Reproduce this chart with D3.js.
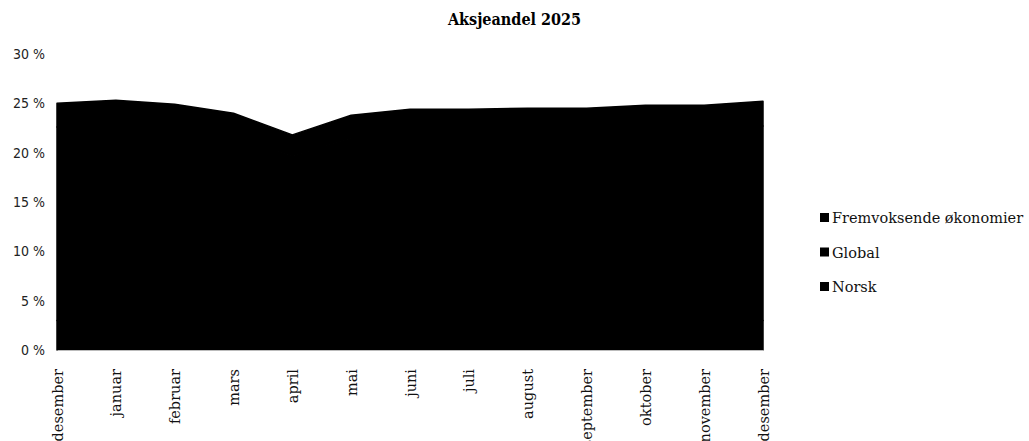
<!DOCTYPE html>
<html>
<head>
<meta charset="utf-8">
<script src="https://cdn.jsdelivr.net/npm/d3@7"></script>
<style>
body { margin: 0; background: #fff; }
</style>
</head>
<body>
<div id="chart"></div>
<script>
// months on the x axis (des 2024 .. des 2025)
var months = ["desember", "januar", "februar", "mars", "april", "mai", "juni",
	"juli", "august", "september", "oktober", "november", "desember"];

// share of equities per segment, in percent (all drawn black in the original)
var norsk = [3.0, 3.1, 3.0, 2.9, 2.7, 2.8, 2.9, 2.9, 2.9, 2.9, 2.9, 2.9, 3.0];
var global = [19.6, 19.8, 19.5, 18.8, 17.0, 18.6, 19.1, 19.1, 19.2, 19.2, 19.4, 19.4, 19.7];
var fremvoksende = [2.4, 2.4, 2.4, 2.3, 2.1, 2.4, 2.4, 2.4, 2.4, 2.4, 2.5, 2.5, 2.5];

var seriesNames = ["Norsk", "Global", "Fremvoksende økonomier"];
var yTicks = [0, 5, 10, 15, 20, 25, 30];

var w = 1029, h = 441;
var margin = {left: 57, right: 266, top: 54, bottom: 91};
var serif = "'DejaVu Serif', serif";

var svg = d3.select("#chart").append("svg")
	.attr("width", w)
	.attr("height", h);

//Title
svg.append("text")
	.attr("x", w / 2)
	.attr("y", 25)
	.attr("text-anchor", "middle")
	.style("font-family", "'DejaVu Serif Condensed', 'DejaVu Serif', serif")
	.style("font-weight", "bold")
	.style("font-size", "16px")
	.text("Aksjeandel 2025");

var rows = months.map(function(m, i) {
	return {i: i, "Norsk": norsk[i], "Global": global[i], "Fremvoksende økonomier": fremvoksende[i]};
});

var x = d3.scaleLinear()
	.domain([0, months.length - 1])
	.range([margin.left, w - margin.right]);

var y = d3.scaleLinear()
	.domain([0, 30])
	.range([h - margin.bottom, margin.top]);

var stack = d3.stack().keys(seriesNames);
var layers = stack(rows);

var area = d3.area()
	.x(function(d) { return x(d.data.i); })
	.y0(function(d) { return y(d[0]); })
	.y1(function(d) { return y(d[1]); });

//stroke in the same colour hides the seams between the layers
svg.append("g").selectAll("path")
	.data(layers).enter()
	.append("path")
	.attr("d", area)
	.style("fill", "#000")
	.style("stroke", "#000")
	.style("stroke-width", 1.5)
	.style("stroke-linejoin", "round");

//Y axis labels only
var yAxis = d3.axisLeft(y)
	.tickValues(yTicks)
	.tickSize(0)
	.tickPadding(12)
	.tickFormat(function(d) { return d + " %"; });

var gy = svg.append("g")
	.attr("transform", "translate(" + margin.left + ",0)")
	.call(yAxis);
gy.select(".domain").remove();
gy.selectAll("text")
	.style("font-family", "'DejaVu Sans Condensed', 'Liberation Sans Narrow', sans-serif")
	.style("font-size", "14px")
	.style("fill", "#222");

//X axis
var xAxis = d3.axisBottom(x)
	.tickValues(d3.range(months.length))
	.tickSize(0)
	.tickFormat(function(d) { return months[d]; });

var gx = svg.append("g")
	.attr("transform", "translate(0," + (h - margin.bottom) + ")")
	.call(xAxis);
gx.select(".domain").style("stroke", "#bbb").style("stroke-width", 1);
gx.selectAll("text")
	.attr("transform", "rotate(-90)")
	.attr("x", -19)
	.attr("y", 0)
	.attr("dy", "0.35em")
	.attr("text-anchor", "end")
	.style("font-family", serif)
	.style("font-size", "14.5px")
	.style("fill", "#111");

//Legend
var legendNames = ["Fremvoksende økonomier", "Global", "Norsk"];
var legend = svg.append("g").selectAll("g")
	.data(legendNames).enter()
	.append("g")
	.attr("transform", function(d, i) { return "translate(820," + (218 + i * 34.5) + ")"; });

legend.append("rect")
	.attr("x", 0)
	.attr("y", -5)
	.attr("width", 9)
	.attr("height", 9)
	.style("fill", "#000");

legend.append("text")
	.attr("x", 12)
	.attr("y", 0)
	.attr("dy", "0.35em")
	.style("font-family", serif)
	.style("font-size", "14.5px")
	.style("fill", "#111")
	.text(function(d) { return d; });
</script>
</body>
</html>
